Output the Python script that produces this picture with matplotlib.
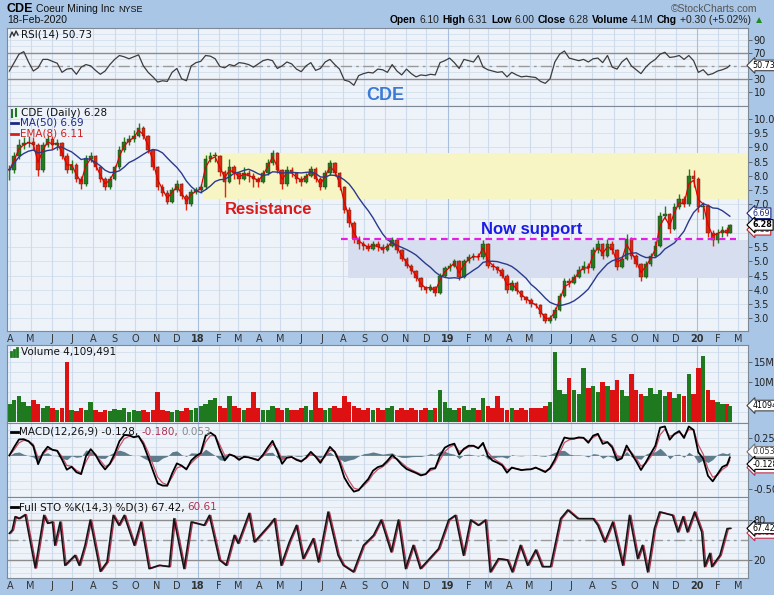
import matplotlib
matplotlib.use('Agg')
import matplotlib.pyplot as plt
from matplotlib.lines import Line2D
import numpy as np
import pandas as pd

plt.rcParams['font.family'] = ['DejaVu Sans']

# ---- data (weekly readings, Fridays from 31-Mar-2017, last point 18-Feb-2020)
close = [8.2, 8.7, 9.1, 9.15, 9.2, 9.1, 8.2, 9.1, 9.3, 9.1,
         9.15, 8.7, 8.2, 8.4, 7.9, 7.7, 8.6, 8.7, 8.3, 7.9,
         7.6, 7.9, 8.3, 8.9, 9.2, 9.3, 9.4, 9.7, 9.4, 8.9,
         8.3, 7.6, 7.4, 7.1, 7.5, 7.7, 7.3, 7.0, 7.45, 7.5,
         7.6, 8.6, 8.7, 8.7, 8.15, 7.8, 8.3, 8.1, 7.9, 8.1,
         8.0, 7.9, 7.8, 8.1, 8.45, 8.8, 8.2, 7.7, 8.2, 8.1,
         7.9, 7.8, 8.0, 8.25, 7.9, 7.6, 8.1, 8.45, 8.1, 7.6,
         6.8, 6.35, 5.8, 5.6, 5.55, 5.45, 5.6, 5.5, 5.4, 5.55,
         5.75, 5.4, 5.1, 4.85, 4.65, 4.4, 4.1, 4.0, 4.1, 3.9,
         4.5, 4.75, 4.85, 5.0, 4.45, 5.0, 5.15, 5.2, 5.15, 5.6,
         4.85, 4.8, 4.7, 4.5, 4.0, 4.25, 3.95, 3.75, 3.65, 3.5,
         3.45, 3.15, 2.9, 3.0, 3.3, 3.8, 4.3, 4.25, 4.45, 4.7,
         4.85, 4.75, 5.4, 5.6, 5.2, 5.6, 5.4, 4.8, 5.1, 5.8,
         5.2, 4.9, 4.45, 4.9, 5.2, 5.55, 6.6, 6.65, 6.15, 6.9,
         7.2, 7.0, 8.0, 7.9, 6.9, 6.95, 6.0, 5.75, 6.0, 6.1,
         5.98, 6.28]

high = [8.4, 8.85, 9.3, 9.35, 9.4, 9.35, 9.15, 9.2, 9.45, 9.4,
        9.3, 9.2, 8.8, 8.55, 8.45, 8.0, 8.75, 8.85, 8.75, 8.35,
        7.95, 8.0, 8.4, 9.05, 9.35, 9.45, 9.6, 9.85, 9.75, 9.45,
        8.95, 8.35, 7.7, 7.5, 7.6, 7.85, 7.75, 7.35, 7.55, 7.6,
        7.7, 8.75, 8.85, 8.85, 8.75, 8.2, 8.6, 8.4, 8.15, 8.3,
        8.2, 8.1, 7.95, 8.2, 8.6, 8.9, 8.85, 8.25, 8.35, 8.3,
        8.15, 8.0, 8.1, 8.35, 8.3, 7.95, 8.2, 8.55, 8.5, 8.15,
        7.65, 6.9, 6.4, 5.9, 5.7, 5.65, 5.7, 5.7, 5.6, 5.65,
        5.85, 5.8, 5.45, 5.15, 4.9, 4.7, 4.45, 4.15, 4.2, 4.15,
        4.6, 4.85, 4.95, 5.1, 5.05, 5.1, 5.25, 5.3, 5.3, 5.75,
        5.65, 4.95, 4.85, 4.75, 4.55, 4.35, 4.3, 4.0, 3.8, 3.7,
        3.55, 3.5, 3.2, 3.1, 3.4, 3.9, 4.4, 4.4, 4.55, 4.85,
        5.0, 4.95, 5.5, 5.75, 5.65, 5.8, 5.7, 5.45, 5.2, 5.95,
        5.85, 5.25, 4.95, 5.0, 5.3, 5.7, 6.75, 6.95, 6.7, 7.05,
        7.35, 7.3, 8.25, 8.2, 7.95, 7.1, 7.0, 6.1, 6.15, 6.25,
        6.2, 6.31]

low = [7.85, 8.1, 8.6, 8.95, 9.0, 8.9, 8.0, 8.15, 9.0, 8.95,
       8.9, 8.6, 8.1, 8.1, 7.8, 7.55, 7.65, 8.5, 8.2, 7.8,
       7.5, 7.55, 7.85, 8.25, 8.85, 9.1, 9.2, 9.35, 9.3, 8.8,
       8.2, 7.5, 7.3, 7.0, 7.05, 7.45, 7.2, 6.8, 6.95, 7.35,
       7.4, 7.55, 8.5, 8.5, 8.0, 7.25, 7.75, 7.9, 7.7, 7.85,
       7.8, 7.6, 7.6, 7.75, 8.05, 8.4, 8.1, 7.55, 7.65, 7.95,
       7.75, 7.65, 7.75, 7.95, 7.8, 7.5, 7.55, 8.05, 8.0, 7.5,
       6.7, 6.2, 5.65, 5.45, 5.4, 5.35, 5.4, 5.35, 5.3, 5.35,
       5.5, 5.3, 5.0, 4.75, 4.55, 4.3, 4.0, 3.9, 3.95, 3.8,
       3.85, 4.45, 4.65, 4.8, 4.35, 4.4, 4.95, 5.05, 5.05, 5.1,
       4.75, 4.7, 4.6, 4.4, 3.9, 3.95, 3.85, 3.65, 3.55, 3.4,
       3.35, 3.05, 2.82, 2.85, 2.95, 3.25, 3.75, 4.1, 4.2, 4.4,
       4.6, 4.6, 4.7, 5.3, 5.1, 5.15, 5.25, 4.7, 4.75, 5.05,
       5.1, 4.8, 4.3, 4.4, 4.85, 5.15, 5.5, 6.5, 6.0, 6.1,
       6.85, 6.9, 6.95, 7.6, 6.75, 6.5, 5.85, 5.55, 5.65, 5.85,
       5.9, 6.00]

volume_m = [4.5, 5.5, 6.5, 5.0, 4.0, 5.5, 4.5, 3.5, 4.0, 3.5,
            3.0, 3.5, 15.0, 3.0, 2.8, 3.5, 3.0, 5.0, 3.0, 2.5,
            3.0, 2.8, 3.2, 3.0, 3.5, 2.5, 3.0, 2.8, 3.0, 2.5,
            3.0, 7.5, 3.0, 2.8, 2.5, 3.0, 2.8, 3.5, 3.0, 3.5,
            4.0, 4.5, 5.5, 6.0, 4.0, 3.5, 6.5, 4.0, 3.5, 3.0,
            3.5, 7.5, 3.5, 3.0, 3.0, 4.0, 3.5, 3.0, 3.5, 3.0,
            3.0, 3.5, 4.0, 3.0, 7.5, 3.5, 3.0, 3.5, 4.0, 3.5,
            6.5, 5.0, 4.0, 3.5, 3.0, 3.5, 3.0, 3.5, 3.0, 3.5,
            4.0, 3.0, 3.5, 3.0, 3.5, 3.0, 3.0, 3.5, 3.0, 3.5,
            8.0, 5.0, 3.5, 3.0, 3.5, 4.0, 3.0, 3.5, 3.0, 6.0,
            4.0, 3.5, 6.5, 3.5, 3.0, 3.5, 3.0, 3.5, 3.0, 3.5,
            3.5, 3.5, 4.0, 5.0, 17.5, 8.0, 7.0, 11.0, 8.0, 7.0,
            13.5, 8.5, 9.0, 7.5, 10.0, 9.0, 8.0, 10.5, 8.0, 6.5,
            12.0, 8.0, 7.0, 6.5, 8.5, 7.0, 8.0, 6.5, 7.5, 6.0,
            7.0, 6.5, 12.0, 7.0, 13.5, 16.5, 8.0, 5.5, 5.0, 4.5,
            4.5, 4.11]

rsi = [42, 55, 68, 72, 56, 42, 47, 60, 60, 57,
       54, 40, 45, 46, 37, 48, 52, 50, 43, 37,
       42, 52, 60, 66, 64, 61, 64, 67, 50, 40,
       33, 25, 27, 26, 40, 46, 30, 27, 50, 55,
       57, 66, 65, 61, 49, 47, 52, 50, 55, 54,
       52, 48, 53, 58, 60, 58, 46, 50, 56, 53,
       45, 41, 50, 55, 43, 46, 56, 60, 52, 45,
       28, 26, 20, 35, 38, 40, 39, 45, 44, 40,
       52, 42, 36, 45, 38, 33, 36, 35, 37, 36,
       55, 58, 62, 55, 46, 60, 58, 56, 66, 48,
       44, 42, 40, 41, 33, 40, 36, 33, 34, 33,
       32, 26, 23, 30, 56, 68, 73, 62, 60, 58,
       60, 56, 61, 62, 55, 66, 48, 45, 56, 62,
       50, 44, 38, 48, 55, 60, 68, 71, 63, 64,
       66, 60, 66, 58, 40, 44, 36, 38, 42, 44,
       47, 50.73]

# stochastic turning points: position in weeks from 31-Mar-2017, %K value
sto_w = [0.0, 0.6, 1.2, 2.0, 3.3, 5.4, 7.2, 8.0, 9.0, 9.5, 10.6, 11.6, 13.7, 14.6, 15.8, 16.9,
         19.0, 20.4, 21.7, 22.9, 24.0, 26.1, 27.5, 29.2, 31.3, 33.4, 34.4, 36.5, 38.0, 40.7,
         41.8, 43.9, 45.3, 47.0, 47.8, 50.1, 51.2, 54.3, 55.4, 56.8, 58.5, 60.0, 61.4, 63.5,
         64.6, 66.6, 68.7, 69.8, 71.9, 74.0, 76.1, 77.7, 79.8, 81.3, 82.8, 84.4, 85.9, 89.7,
         91.8, 93.2, 94.9, 96.4, 98.0, 99.5, 100.5, 102.2, 104.1, 105.1, 106.8, 108.3, 110.0,
         111.4, 113.1, 115.2, 116.7, 118.8, 122.0, 123.0, 124.4, 126.1, 128.2, 129.6, 131.3,
         132.3, 133.4, 134.8, 135.9, 138.6, 139.7, 140.8, 141.7, 143.2, 144.7, 145.3, 146.4,
         146.8, 148.5, 150.0, 150.6]
sto_k = [60, 65, 85, 82, 88, 8, 87, 75, 77, 42, 77, 12, 27, 12, 42, 80,
         3, 17, 87, 72, 87, 42, 77, 7, 12, 10, 82, 7, 77, 72,
         87, 20, 12, 57, 45, 90, 47, 72, 82, 12, 47, 72, 22, 52,
         17, 92, 27, 12, 2, 42, 57, 80, 32, 80, 7, 42, 7, 37,
         80, 87, 27, 80, 72, 80, 2, 22, 20, 2, 42, 12, 35,
         10, 10, 82, 95, 82, 82, 72, 47, 77, 12, 87, 22,
         42, 2, 67, 92, 87, 62, 85, 62, 92, 62, 10, 30,
         10, 27, 67, 67.42]

resistance_zone = (7.2, 8.82, '2018-01-08')
support_zone = (4.43, 5.75, '2018-08-08')
support_line = (5.78, '2018-07-29', '2020-02-27')

# ---- derived series
start = pd.Timestamp('2017-03-31')
dates = pd.date_range(start, periods=150 + 1, freq='7D').append(pd.DatetimeIndex(['2020-02-18']))
sto_dates = start + pd.to_timedelta(np.array(sto_w) * 7, unit='D')
c = pd.Series(close)
opens = np.array([close[0]] + close[:-1])
closes = np.array(close)


def weekly_alpha(n):
    return 1 - (1 - 2 / (n + 1)) ** 5


ma50 = c.rolling(10, min_periods=1).mean()
ema8 = c.ewm(alpha=weekly_alpha(8), adjust=False).mean()
macd = c.ewm(alpha=weekly_alpha(12), adjust=False).mean() - c.ewm(alpha=weekly_alpha(26), adjust=False).mean()
signal = macd.ewm(alpha=weekly_alpha(9), adjust=False).mean()
hist = macd - signal
up = closes >= opens

months = pd.date_range('2017-04-01', '2020-03-01', freq='MS')
mlabels = [str(d.year)[2:] if d.month == 1 else 'JFMAMJJASOND'[d.month - 1] for d in months]
xmin = start - pd.Timedelta(days=3.5)
xmax = start + pd.Timedelta(days=1080.6)

GREEN, RED = '#1f7d1f', '#e2260e'
SANS = ['Liberation Sans', 'DejaVu Sans']

# ---- figure
W, H = 774, 595
fig = plt.figure(figsize=(W / 100, H / 100), dpi=100, facecolor='#a9c6e6')
renderer = fig.canvas.get_renderer()


def px_axes(y0, y1, x0=7, x1=748):
    return fig.add_axes([x0 / W, 1 - y1 / H, (x1 - x0) / W, (y1 - y0) / H])


def style(ax, ylim, yticks, ylabels, ygrid, xlabels=False):
    ax.set_facecolor('#eef3fa')
    ax.set_xlim(xmin, xmax)
    ax.set_ylim(*ylim)
    ax.set_axisbelow(True)
    for g in ygrid:
        ax.axhline(g, color='#d3dfee', lw=0.6, zorder=0)
    for m in months:
        ax.axvline(m, color='#a7bfdc' if m.month == 1 else '#cddbec', lw=0.8, zorder=0)
    ax.yaxis.tick_right()
    ax.set_yticks(yticks)
    ax.set_yticklabels(ylabels)
    ax.tick_params(axis='y', length=3, width=0.6, color='#555', pad=1, labelsize=7, labelcolor='#222')
    ax.set_xticks(months)
    ax.set_xticklabels(mlabels)
    ax.tick_params(axis='x', length=0, pad=2, labelsize=7, labelcolor='#333', labelbottom=xlabels)
    if xlabels:
        for t, lab in zip(ax.get_xticklabels(), mlabels):
            if lab.isdigit():
                t.set_fontweight('bold')
    for sp in ax.spines.values():
        sp.set_color('#7d8996')
        sp.set_linewidth(0.8)


def tag(ax, y, s, ec, tc='black', weight='normal', z=6):
    ax.text(1.006, y, s, transform=ax.get_yaxis_transform(), ha='left', va='center', fontsize=5.8,
            color=tc, fontweight=weight, zorder=z, clip_on=False,
            bbox=dict(boxstyle='larrow,pad=0.1', fc='white', ec=ec, lw=0.8))


def run_text(x, y, parts, size, family=None, gap=3, right=False):
    # parts: (text, colour, weight) or (text, colour, weight, size)
    arts = []
    cx = x
    for p in parts:
        s, color, weight = p[:3]
        kw = dict(color=color, fontweight=weight, fontsize=p[3] if len(p) > 3 else size, va='center', ha='left')
        if family:
            kw['family'] = family
        t = fig.text(cx / W, 1 - y / H, s, **kw)
        arts.append((t, cx))
        cx += t.get_window_extent(renderer).width + gap
    if right:
        total = cx - gap - x
        for t, px in arts:
            t.set_x((px - total) / W)


# RSI panel
ax_rsi = px_axes(28, 106)
style(ax_rsi, (-12, 108.5), [10, 30, 70, 90], ['10', '30', '70', '90'], range(0, 101, 10))
ax_rsi.axhline(70, color='#8c8c8c', lw=1.0, zorder=1)
ax_rsi.axhline(30, color='#8c8c8c', lw=1.0, zorder=1)
ax_rsi.axhline(50, color='#9a9a9a', lw=1.0, dashes=(8, 3, 2, 3), zorder=1)
ax_rsi.plot(dates, rsi, color='#3c3c3c', lw=0.9, zorder=3)
ax_rsi.text(0.51, 0.13, 'CDE', transform=ax_rsi.transAxes, ha='center', va='center', fontsize=13,
            fontweight='bold', color='#3b7ad6', family=SANS)
tag(ax_rsi, 50.73, '50.73', '#444')

# price panel
ax_p = px_axes(106, 331)
pticks = [v for v in np.arange(3.0, 10.01, 0.5) if v not in (6.0, 6.5)]
style(ax_p, (2.554, 10.456), pticks, ['%.1f' % v for v in pticks], np.arange(2.5, 10.51, 0.5), xlabels=True)
ax_p.fill_between([pd.Timestamp(resistance_zone[2]), xmax], resistance_zone[0], resistance_zone[1],
                  color='#f7f5c4', lw=0, zorder=0.5)
ax_p.fill_between([pd.Timestamp(support_zone[2]), xmax], support_zone[0], support_zone[1],
                  color='#d6deef', lw=0, zorder=0.5)
ax_p.plot([pd.Timestamp(support_line[1]), pd.Timestamp(support_line[2])], [support_line[0]] * 2,
          color='#e41ee4', lw=1.6, dashes=(3, 2), zorder=4)
ccols = np.where(up, GREEN, RED)
ax_p.vlines(dates, low, high, colors=ccols, lw=1.0, zorder=2)
ax_p.bar(dates, np.maximum(np.abs(closes - opens), 0.04), bottom=np.minimum(opens, closes), width=5.2,
         color=ccols, edgecolor='#3a2a1a', lw=0.3, zorder=2.5)
ax_p.plot(dates, ema8, color='#e00000', lw=0.9, zorder=3)
ax_p.plot(dates, ma50, color='#2a3a8c', lw=1.0, zorder=3)
ax_p.text(0.294, 0.538, 'Resistance', transform=ax_p.transAxes, ha='left', va='center', fontsize=12,
          fontweight='bold', color='#d61c1c', family=SANS, zorder=5)
ax_p.text(0.640, 0.453, 'Now support', transform=ax_p.transAxes, ha='left', va='center', fontsize=12,
          fontweight='bold', color='#1c1ce6', family=SANS, zorder=5)
tag(ax_p, 6.11, '6.11', '#d02020', tc='#d02020', z=6)
tag(ax_p, 6.69, '6.69', '#1c2a80', tc='#1c2a80', z=7)
tag(ax_p, 6.28, '6.28', 'black', weight='bold', z=8)

# volume panel
ax_v = px_axes(345, 423)
style(ax_v, (-0.25, 19.25), [10, 15], ['10M', '15M'], np.arange(2.5, 19, 2.5))
vcols = np.where(up, '#1f7a1f', '#dd1111')
ax_v.bar(dates, volume_m, width=6.6, color=vcols, lw=0, zorder=2)
tag(ax_v, 4.11, '4109491', '#444')

# MACD panel
ax_m = px_axes(423, 497)
style(ax_m, (-0.615, 0.479), [0.25, -0.5], ['0.25', '-0.50'], np.arange(-0.5, 0.45, 0.125))
ax_m.fill_between(dates, hist, 0, color='#5f7c8d', lw=0, zorder=2)
ax_m.plot(dates, signal, color='#c8506a', lw=0.9, zorder=3)
ax_m.plot(dates, macd, color='black', lw=1.3, zorder=4)
tag(ax_m, 0.053, '0.053', '#777', tc='#333')
tag(ax_m, -0.18, '-0.180', '#c03050', tc='#c03050')
tag(ax_m, -0.128, '-0.128', 'black', z=8)

# Full STO panel
ax_s = px_axes(497, 578)
style(ax_s, (-7, 114.5), [20, 80], ['20', '80'], range(0, 111, 10), xlabels=True)
ax_s.axhline(80, color='#8c8c8c', lw=1.0, zorder=1)
ax_s.axhline(20, color='#8c8c8c', lw=1.0, zorder=1)
ax_s.axhline(50, color='#9a9a9a', lw=1.0, dashes=(8, 3, 2, 3), zorder=1)
ax_s.plot(sto_dates + pd.Timedelta(days=2), sto_k, color='#b0304e', lw=1.0, zorder=3)
ax_s.plot(sto_dates, sto_k, color='#151515', lw=1.2, zorder=4)
tag(ax_s, 60.61, '60.61', '#c03050', tc='#c03050')
tag(ax_s, 67.42, '67.42', 'black', z=8)

# ---- panel titles
run_text(21, 34.5, [('RSI(14) 50.73', '#111', 'normal')], 7.5)
run_text(21, 113, [('CDE (Daily) 6.28', '#111', 'normal')], 7.5)
run_text(20, 123, [('MA(50) 6.69', '#1c2a80', 'normal')], 7.5)
run_text(20, 133.5, [('EMA(8) 6.11', '#d02020', 'normal')], 7.5)
run_text(21, 352, [('Volume 4,109,491', '#111', 'normal')], 7.5)
run_text(19, 432, [('MACD(12,26,9) -0.128,', '#111', 'normal'), ('-0.180,', '#b03050', 'normal'),
                   ('0.053', '#888', 'normal')], 7.5)
run_text(19, 507, [('Full STO %K(14,3) %D(3) 67.42,', '#111', 'normal'), ('60.61', '#b03050', 'normal')], 7.5)

for y, col in [(123, '#1c2a80'), (133.5, '#d02020'), (432, 'black'), (507, 'black')]:
    fig.add_artist(Line2D([11 / W, 18 / W], [1 - y / H] * 2, color=col, lw=2))
# small icons
fig.add_artist(Line2D(np.array([10, 12, 14, 16, 18]) / W, 1 - np.array([37, 32, 36, 31, 35]) / H,
                      color='#333', lw=1))
for i in range(3):
    fig.add_artist(Line2D([(11 + 3 * i) / W] * 2, [1 - 356 / H, 1 - (352 - 2 * i) / H], color='#1f7a1f', lw=2))
fig.add_artist(Line2D([12 / W] * 2, [1 - 117 / H, 1 - 110 / H], color='#1f7a1f', lw=1.5))
fig.add_artist(Line2D([16 / W] * 2, [1 - 116 / H, 1 - 109 / H], color='#1f7a1f', lw=1.5))

# ---- header
run_text(7, 9, [('CDE', 'black', 'bold', 9), ('Coeur Mining Inc', '#111', 'normal', 7.5),
                ('NYSE', '#111', 'normal', 6.5)], 7.5, family=SANS, gap=3)
fig.text(7 / W, 1 - 20 / H, '18-Feb-2020', fontsize=7.5, va='center', color='#111', family=SANS)
fig.text(757 / W, 1 - 9 / H, '\u00a9StockCharts.com', fontsize=7.5, va='center', ha='right', color='#555',
         family=SANS)
run_text(764, 20, [('Open', 'black', 'bold'), ('6.10', '#222', 'normal'), ('High', 'black', 'bold'),
                   ('6.31', '#222', 'normal'), ('Low', 'black', 'bold'), ('6.00', '#222', 'normal'),
                   ('Close', 'black', 'bold'), ('6.28', '#222', 'normal'), ('Volume', 'black', 'bold'),
                   ('4.1M', '#222', 'normal'), ('Chg', 'black', 'bold'), ('+0.30 (+5.02%)', '#222', 'normal'),
                   ('\u25b2', '#1f8a1f', 'normal')],
         7.4, family=SANS, gap=3, right=True)

fig.savefig('out.png', dpi=100, facecolor=fig.get_facecolor())
